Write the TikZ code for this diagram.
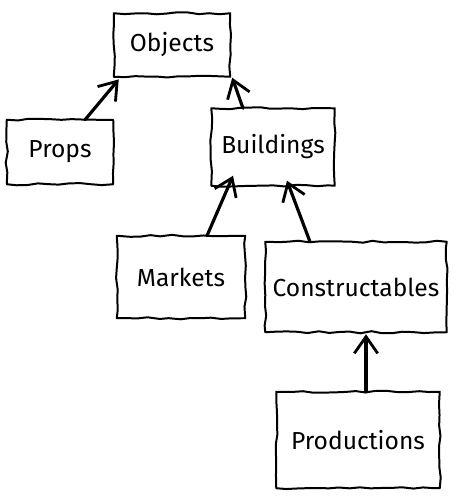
\documentclass[tikz,border=0pt]{standalone}
\usepackage{fontspec}
\setsansfont{Fira Sans}
\usetikzlibrary{arrows.meta, positioning, decorations.pathmorphing}

\begin{document}
\pgfmathsetseed{7}
\begin{tikzpicture}[
    x=0.03cm, y=-0.03cm,
    every node/.style={font=\sffamily\fontsize{21}{24}\selectfont, align=center},
    box/.style={rectangle, inner sep=0pt},
    sketch/.style={line width=1.7pt, line join=round,
                   decorate, decoration={random steps, segment length=9pt, amplitude=0.9pt}},
    arrow/.style={-{Straight Barb[length=5mm, width=7mm, line width=2.4pt]},
                  line width=2.7pt, line cap=round}
]
\useasboundingbox (0,0) rectangle (462,498);

% --- Boxes ---
\node[box, minimum width=3.48cm, minimum height=1.89cm] (objects) at (172,45) {Objects};
\node[box, minimum width=3.18cm, minimum height=1.92cm] (props) at (60,152) {Props};
\node[box, minimum width=3.69cm, minimum height=2.31cm] (buildings) at (273,147) {Buildings};
\node[box, minimum width=3.84cm, minimum height=2.46cm] (markets) at (181,277) {Markets};
\node[box, minimum width=5.43cm, minimum height=2.70cm] (constructables) at (356,287) {Constructables};
\node[box, minimum width=4.89cm, minimum height=2.88cm] (productions) at (358,440) {Productions};

% --- Wobbly outlines ---
\foreach \n in {objects, props, buildings, markets, constructables, productions}
  \draw[sketch] (\n.north west) rectangle (\n.south east);

% --- Inheritance arrows ---
\draw[arrow] ([xshift=0.75cm]props.north) -- ([xshift=0.15cm, yshift=-0.08cm]objects.south west);
\draw[arrow] ([xshift=-0.9cm]buildings.north) -- ([xshift=0.06cm, yshift=-0.03cm]objects.south east);
\draw[arrow] ([xshift=0.78cm]markets.north) -- ([xshift=-1.2cm, yshift=0.3cm]buildings.south);
\draw[arrow] ([xshift=-1.38cm]constructables.north) -- ([xshift=0.42cm, yshift=0.15cm]buildings.south);
\draw[arrow] ([xshift=0.24cm]productions.north) -- ([xshift=0.3cm, yshift=-0.06cm]constructables.south);

\end{tikzpicture}
\end{document}
